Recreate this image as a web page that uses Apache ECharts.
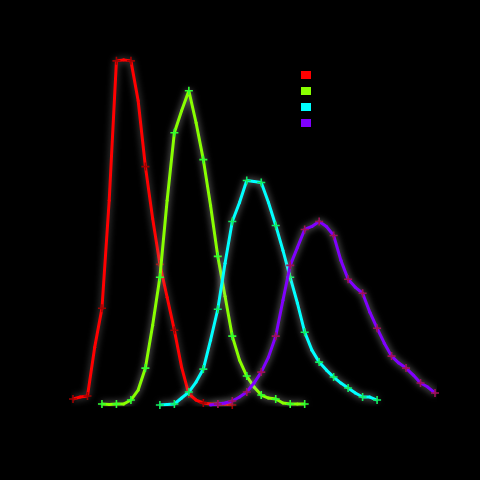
<!DOCTYPE html>
<html>
<head>
<meta charset="utf-8">
<script src="https://cdn.jsdelivr.net/npm/echarts@6/dist/echarts.min.js"></script>
<style>
html,body{margin:0;padding:0;background:#000;}
#chart{width:480px;height:480px;}
</style>
</head>
<body>
<div id="chart"></div>
<script>
// bin index positions (x axis)
var bins = [];
for (var b = 0; b <= 50; b++) bins.push(b);

var seriesNames = ['Series 1', 'Series 2', 'Series 3', 'Series 4'];
var lineColors = ['#ff0000', '#88ff00', '#00ffff', '#8000ff'];
var markColors = ['#a00000', '#30ff30', '#10ee60', '#a0105a'];
var startBin = [0, 4, 12, 19];

var red = [6, 8, 9, 58, 97, 205, 345, 346, 345, 305, 239, 187, 141, 108, 75, 38, 11, 5, 2, 1, 1, 1, 0];
var green = [1, 0.5, 1, 1, 5, 15, 37, 80, 128, 205, 273, 295, 315, 283, 246, 200, 149, 109, 69, 45, 29, 18, 10, 7, 6, 2, 1, 1, 1];
var cyan = [0, 0.5, 1, 7, 13, 23, 36, 65, 96, 142, 184, 203, 225, 224, 223, 203, 180, 155, 128, 102, 73, 55, 43, 35, 28, 22, 17, 12, 8, 8, 5];
var purple = [0, 1, 2, 4, 8, 13, 22, 33, 48, 69, 105, 140, 158, 176, 179, 184, 179, 170, 145, 126, 118, 112, 93, 77, 62, 49, 42, 37, 30, 22, 18, 12];

var values = [red, green, cyan, purple];

var crossPath = 'path://M4,0 L6,0 L6,4 L10,4 L10,6 L6,6 L6,10 L4,10 L4,6 L0,6 L0,4 L4,4 Z';

var series = values.map(function (arr, s) {
  var data = arr.map(function (v, k) {
    var idx = startBin[s] + k;
    var even = idx % 2 === 0;
    return {
      value: [bins[idx], v],
      symbol: even ? crossPath : 'circle',
      symbolSize: even ? 8 : 3,
      itemStyle: { color: even ? markColors[s] : lineColors[s] }
    };
  });
  return {
    name: seriesNames[s],
    type: 'line',
    data: data,
    showAllSymbol: true,
    lineStyle: {
      color: lineColors[s],
      width: 3,
      shadowColor: s === 0 ? 'rgba(120,120,120,0.8)' : 'rgba(190,190,190,0.8)',
      shadowBlur: 7
    },
    itemStyle: { color: markColors[s] },
    z: 2 + s
  };
});

var chart = echarts.init(document.getElementById('chart'));
chart.setOption({
  animation: false,
  backgroundColor: '#000000',
  grid: { left: 73, right: 45, top: 5, bottom: 75 },
  legend: {
    orient: 'vertical',
    left: 301,
    top: 69,
    padding: 0,
    itemWidth: 10,
    itemHeight: 8,
    itemGap: 4,
    icon: 'rect',
    textStyle: { color: '#000000', fontSize: 11, fontFamily: 'DejaVu Sans', lineHeight: 12 },
    data: seriesNames.map(function (n, s) {
      return { name: n, itemStyle: { color: lineColors[s] } };
    })
  },
  xAxis: {
    type: 'value',
    min: 0,
    max: 50,
    interval: 10,
    axisLine: { lineStyle: { color: '#000000' } },
    axisTick: { lineStyle: { color: '#000000' } },
    axisLabel: { color: '#000000' },
    splitLine: { show: false }
  },
  yAxis: {
    type: 'value',
    min: 0,
    max: 400,
    interval: 100,
    axisLine: { show: true, lineStyle: { color: '#000000' } },
    axisTick: { show: true, lineStyle: { color: '#000000' } },
    axisLabel: { color: '#000000' },
    splitLine: { show: false }
  },
  series: series
});
</script>
</body>
</html>
